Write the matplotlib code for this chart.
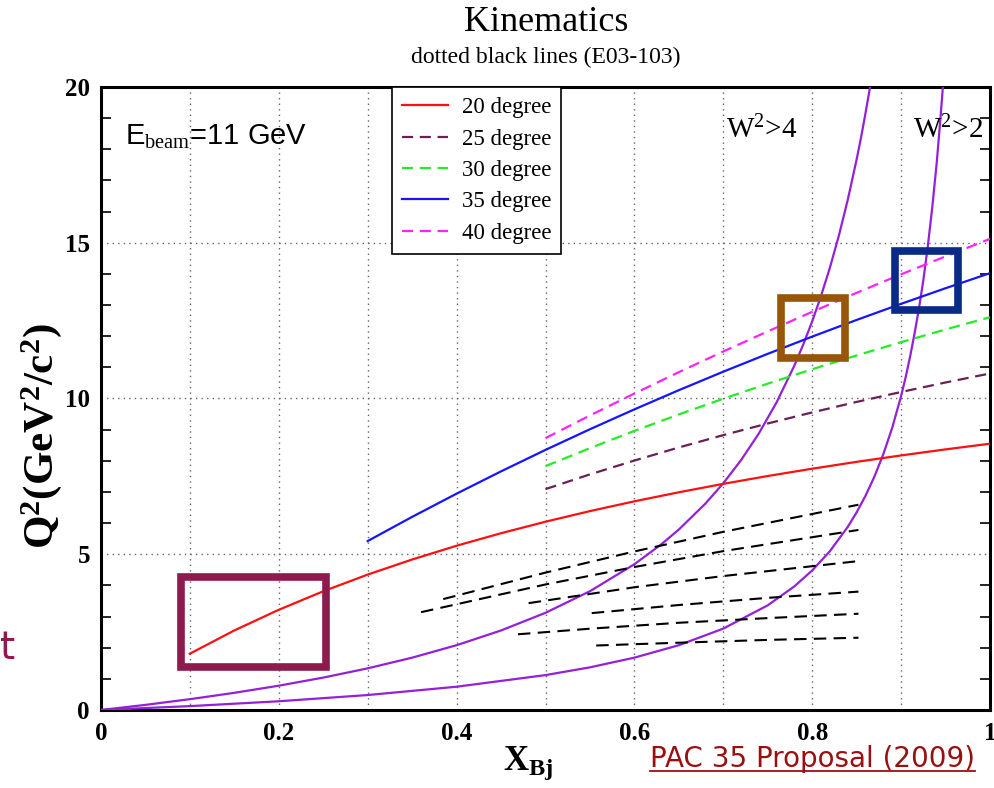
import matplotlib
matplotlib.use('Agg')
import matplotlib.pyplot as plt
from matplotlib.patches import Rectangle
from matplotlib.lines import Line2D
from matplotlib.ticker import MultipleLocator

plt.rcParams['mathtext.fontset'] = 'custom'
plt.rcParams['mathtext.rm'] = 'Liberation Serif'
plt.rcParams['mathtext.bf'] = 'Liberation Serif:bold'
plt.rcParams['mathtext.it'] = 'Liberation Serif:italic'

# --- data ---
# W^2 limits (purple)
x_w4 = [0, 0.05, 0.1, 0.15, 0.2, 0.25, 0.3, 0.35, 0.4, 0.45, 0.5, 0.55, 0.6,
        0.63, 0.65, 0.68, 0.7, 0.72, 0.74, 0.76, 0.78, 0.79, 0.8, 0.81, 0.82,
        0.83, 0.84, 0.85, 0.855, 0.86, 0.865]
q2_w4 = [0, 0.164, 0.347, 0.551, 0.78, 1.04, 1.337, 1.68, 2.08, 2.553, 3.12,
         3.813, 4.68, 5.313, 5.794, 6.630, 7.28, 8.022, 8.880, 9.880, 11.06,
         11.74, 12.48, 13.30, 14.21, 15.23, 16.38, 17.68, 18.39, 19.17, 19.99]
x_w2 = [0, 0.1, 0.2, 0.3, 0.4, 0.5, 0.55, 0.6, 0.65, 0.7, 0.75, 0.78, 0.8,
        0.82, 0.84, 0.85, 0.86, 0.87, 0.88, 0.89, 0.9, 0.905, 0.91, 0.915,
        0.92, 0.925, 0.93, 0.935, 0.94, 0.944, 0.947]
q2_w2 = [0, 0.124, 0.28, 0.48, 0.747, 1.12, 1.369, 1.68, 2.08, 2.613, 3.36,
         3.971, 4.48, 5.102, 5.88, 6.347, 6.88, 7.495, 8.213, 9.062, 10.08,
         10.67, 11.33, 12.07, 12.88, 13.80, 14.88, 16.13, 17.55, 18.91, 20.01]

# spectrometer angles, E_beam = 11 GeV
x_20 = [0.1, 0.15, 0.2, 0.25, 0.3, 0.35, 0.4, 0.45, 0.5, 0.55, 0.6, 0.65,
        0.7, 0.75, 0.8, 0.85, 0.9, 0.95, 1.0]
q2_20 = [1.808, 2.554, 3.217, 3.811, 4.347, 4.831, 5.273, 5.675, 6.044,
         6.385, 6.699, 6.989, 7.26, 7.511, 7.746, 7.966, 8.172, 8.366, 8.549]
x_hi = [0.5, 0.55, 0.6, 0.65, 0.7, 0.75, 0.8, 0.85, 0.9, 0.95, 1.0]
q2_25 = [7.091, 7.564, 8.008, 8.428, 8.824, 9.198, 9.553, 9.890, 10.209,
         10.514, 10.803]
q2_30 = [7.827, 8.407, 8.960, 9.488, 9.993, 10.476, 10.939, 11.383, 11.808,
         12.217, 12.610]
x_35 = [0.3, 0.35, 0.4, 0.45, 0.5, 0.55, 0.6, 0.65, 0.7, 0.75, 0.8, 0.85,
        0.9, 0.95, 1.0]
q2_35 = [5.424, 6.200, 6.945, 7.661, 8.350, 9.013, 9.651, 10.267, 10.861,
         11.434, 11.987, 12.522, 13.039, 13.540, 14.024]
q2_40 = [8.728, 9.455, 10.160, 10.845, 11.510, 12.155, 12.782, 13.393,
         13.986, 14.563, 15.124]

# E03-103 kinematics (black dotted)
e03_x = [[0.385, 0.5, 0.6, 0.7, 0.852],
         [0.36, 0.5, 0.6, 0.7, 0.852],
         [0.481, 0.6, 0.7, 0.852],
         [0.552, 0.65, 0.75, 0.852],
         [0.469, 0.55, 0.65, 0.75, 0.852],
         [0.557, 0.65, 0.75, 0.852]]
e03_q2 = [[3.56, 4.41, 5.09, 5.72, 6.59],
          [3.14, 4.03, 4.59, 5.10, 5.78],
          [3.43, 3.94, 4.30, 4.78],
          [3.11, 3.37, 3.60, 3.80],
          [2.43, 2.61, 2.80, 2.95, 3.09],
          [2.07, 2.16, 2.25, 2.32]]

# hand-drawn boxes: (x0, x1, q2_low, q2_high)
boxes = [(0.09, 0.253, 1.38, 4.27),
         (0.765, 0.837, 11.30, 13.23),
         (0.893, 0.964, 12.84, 14.73)]
box_colors = ['#8e1b4e', '#98560a', '#0a2a8a']

x_ticks = [0, 0.2, 0.4, 0.6, 0.8, 1.0]
x_ticklabels = ['0', '0.2', '0.4', '0.6', '0.8', '1']
y_ticks = [0, 5, 10, 15, 20]
y_ticklabels = ['0', '5', '10', '15', '20']

purple = '#9420d8'
serif = 'Liberation Serif'

fig = plt.figure(figsize=(9.94, 7.88), dpi=100)
ax = fig.add_axes([0.1016, 0.099, 0.8944, 0.7906])

ax.plot(x_w4, q2_w4, color=purple, lw=1.6, zorder=3)
ax.plot(x_w2, q2_w2, color=purple, lw=1.6, zorder=3)

ax.plot(x_20, q2_20, color='#ff1010', lw=1.6, label='20 degree', zorder=3)
ax.plot(x_hi, q2_25, color='#6a1f55', lw=1.6, dashes=(5, 3), label='25 degree', zorder=3)
ax.plot(x_hi, q2_30, color='#22ee22', lw=1.6, dashes=(5, 3), label='30 degree', zorder=3)
ax.plot(x_35, q2_35, color='#1515ff', lw=1.6, label='35 degree', zorder=3)
ax.plot(x_hi, q2_40, color='#ff22ff', lw=1.6, dashes=(5, 3), label='40 degree', zorder=3)

for xs, qs in zip(e03_x, e03_q2):
    ax.plot(xs, qs, color='black', lw=1.5, dashes=(6, 3.5), zorder=3)

for (x0, x1, y0, y1), c in zip(boxes, box_colors):
    ax.add_patch(Rectangle((x0, y0), x1 - x0, y1 - y0, fill=False,
                           edgecolor=c, lw=5.5, zorder=4))

ax.set_xlim(0, 1)
ax.set_ylim(0, 20)
ax.set_xticks(x_ticks, x_ticklabels, fontsize=18, fontweight='bold', family=serif)
ax.set_yticks(y_ticks, y_ticklabels, fontsize=18, fontweight='bold', family=serif)
ax.xaxis.set_minor_locator(MultipleLocator(0.1))
ax.yaxis.set_minor_locator(MultipleLocator(1))
ax.grid(True, which='both', axis='x', ls=(0, (1, 3)), color='#666666', lw=1)
ax.grid(True, which='major', axis='y', ls=(0, (1, 3)), color='#666666', lw=1)
ax.tick_params(axis='y', which='both', direction='in', left=True, right=True,
               width=1.2)
ax.tick_params(axis='y', which='major', length=0, pad=8)
ax.tick_params(axis='y', which='minor', length=7)
ax.tick_params(axis='x', which='both', length=0, pad=9)
for s in ax.spines.values():
    s.set_linewidth(2.2)

ax.set_xlabel(r'$\mathbf{X_{Bj}}$', fontsize=25)
ax.xaxis.set_label_coords(0.48, -0.055)
ax.set_ylabel(r'$\mathbf{Q^{2}(GeV^{2}/c^{2})}$', fontsize=31)
ax.yaxis.set_label_coords(-0.042, 0.44)

ax.text(0.027, 0.908, r'E$_{\mathrm{beam}}$=11 GeV', transform=ax.transAxes,
        fontsize=21, family='Liberation Sans', va='baseline')
ax.text(0.703, 0.918, r'W$^{2}$>4', transform=ax.transAxes, fontsize=21,
        family=serif, va='baseline')
ax.text(0.913, 0.918, r'W$^{2}$>2', transform=ax.transAxes, fontsize=21,
        family=serif, va='baseline')

leg = ax.legend(loc='upper left', bbox_to_anchor=(0.327, 1.0), frameon=True,
                fancybox=False, edgecolor='black', framealpha=1,
                prop={'family': serif, 'size': 16.5},
                handlelength=2.0, handletextpad=0.6, labelspacing=0.45,
                borderpad=0.45, borderaxespad=0)
leg.get_frame().set_linewidth(1.2)

fig.text(0.549, 0.972, 'Kinematics', ha='center', va='center', fontsize=26,
         family=serif)
fig.text(0.549, 0.927, 'dotted black lines (E03-103)', ha='center',
         va='center', fontsize=17, family=serif)

fig.text(0.0, 0.178, 't', ha='left', va='center', fontsize=28,
         family='DejaVu Sans', color='#8e1b4e')
pac = fig.text(0.981, 0.037, 'PAC 35 Proposal (2009)', ha='right',
               va='center', fontsize=20, family='DejaVu Sans', color='#9a1010')

fig.canvas.draw()
bb = pac.get_window_extent().transformed(fig.transFigure.inverted())
fig.add_artist(Line2D([bb.x0, bb.x1], [bb.y0 + 0.002, bb.y0 + 0.002],
                      color='#9a1010', lw=1.3, transform=fig.transFigure))

fig.savefig('out.png', dpi=100)
